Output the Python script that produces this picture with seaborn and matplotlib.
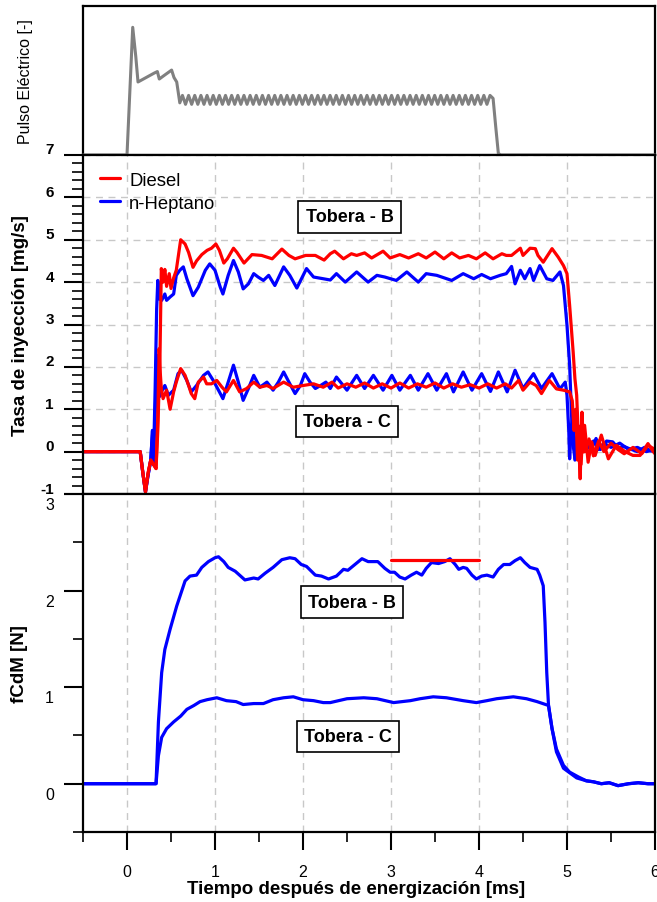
import numpy as np
import pandas as pd
import matplotlib
matplotlib.use("Agg")
import matplotlib.pyplot as plt
import matplotlib.transforms as mtransforms
from matplotlib.ticker import MultipleLocator, FixedLocator
import seaborn as sns

# ---------------- data ----------------
# electrical pulse (arbitrary units)
pulse_head_t = [-0.5, 0.0, 0.065, 0.10, 0.125, 0.31, 0.345, 0.367, 0.413, 0.507, 0.534, 0.565, 0.60]
pulse_head_v = [0.0, 0.0, 0.857, 0.66, 0.49, 0.55, 0.56, 0.51, 0.53, 0.57, 0.52, 0.49, 0.35]
pulse_hold_v = [
    0.40, 0.34, 0.40, 0.34, 0.40, 0.34, 0.40, 0.34, 0.40, 0.34, 0.40, 0.34, 0.40, 0.34, 0.40, 0.34, 0.40,
    0.34, 0.40, 0.34, 0.40, 0.34, 0.40, 0.34, 0.40, 0.34, 0.40, 0.34, 0.40, 0.34, 0.40, 0.34, 0.40, 0.34,
    0.40, 0.34, 0.40, 0.34, 0.40, 0.34, 0.40, 0.34, 0.40, 0.34, 0.40, 0.34, 0.40, 0.34, 0.40, 0.34, 0.40,
    0.34, 0.40, 0.34, 0.40, 0.34, 0.40, 0.34, 0.40, 0.34, 0.40, 0.34, 0.40, 0.34, 0.40, 0.34, 0.40, 0.34,
    0.40, 0.34, 0.40, 0.34, 0.40, 0.34, 0.40, 0.34, 0.40, 0.34, 0.40, 0.34, 0.40, 0.34, 0.40, 0.34, 0.40,
    0.34, 0.40, 0.34, 0.40, 0.34, 0.40, 0.34, 0.40, 0.34, 0.40, 0.34, 0.40, 0.34, 0.40, 0.34, 0.40, 0.38,
]
pulse_hold_t0, pulse_hold_t1 = 0.63, 4.16
pulse_tail_t = [4.19, 4.22, 4.25, 6.0]
pulse_tail_v = [0.19, 0.01, 0.0, 0.0]

# injection rate [mg/s] - Tobera B
heptano_b_t = [-0.5, 0.15, 0.18, 0.21, 0.24, 0.27, 0.29, 0.30, 0.32, 0.337, 0.35, 0.37, 0.394, 0.43, 0.45,
               0.49, 0.53, 0.56, 0.60, 0.64, 0.68, 0.75, 0.81, 0.89, 0.94, 1.0, 1.06, 1.09, 1.15, 1.21,
               1.265, 1.32, 1.38, 1.44, 1.49, 1.55, 1.61, 1.68, 1.78, 1.85, 1.93, 2.04, 2.12, 2.23, 2.31,
               2.38, 2.48, 2.61, 2.74, 2.84, 2.93, 3.06, 3.18, 3.31, 3.40, 3.52, 3.69, 3.82, 3.94, 4.03,
               4.13, 4.24, 4.31, 4.37, 4.41, 4.47, 4.52, 4.58, 4.62, 4.69, 4.77, 4.84, 4.92, 4.96, 5.0,
               5.03, 5.05, 5.07, 5.09, 5.12, 5.15, 5.18, 5.22, 5.27, 5.33, 5.38, 5.45, 5.52, 5.58, 5.65,
               5.72, 5.80, 5.88, 5.95, 6.0]
heptano_b_v = [0.0, 0.0, -0.5, -0.95, -0.55, -0.2, 0.5, -0.3, 1.5, 3.37, 4.04, 3.6, 3.57, 3.72, 3.57,
               3.65, 3.72, 4.16, 4.28, 4.36, 4.08, 3.68, 3.88, 4.28, 4.43, 4.28, 3.88, 3.72, 4.16, 4.51,
               4.24, 3.84, 3.96, 4.2, 4.12, 4.04, 4.16, 3.92, 4.36, 4.16, 3.86, 4.32, 4.12, 4.08, 4.05,
               4.2, 4.0, 4.24, 4.0, 4.16, 4.12, 4.04, 4.24, 4.0, 4.2, 4.16, 4.04, 4.2, 4.08, 4.18,
               4.08, 4.16, 4.2, 4.37, 3.96, 4.28, 4.08, 4.32, 4.04, 4.39, 4.08, 4.04, 4.24, 3.92, 2.98,
               2.04, 0.93, 0.15, -0.17, 0.3, -0.1, 0.2, 0.15, 0.05, 0.31, 0.05, 0.25, 0.23, 0.08, 0.12,
               0.06, 0.0, 0.1, 0.02, 0.0]

diesel_b_t = [-0.5, 0.15, 0.18, 0.21, 0.24, 0.27, 0.30, 0.33, 0.35, 0.375, 0.39, 0.41, 0.43, 0.45, 0.48,
              0.50, 0.53, 0.56, 0.61, 0.66, 0.70, 0.75, 0.79, 0.85, 0.91, 0.96, 1.01, 1.05, 1.10, 1.14,
              1.21, 1.25, 1.33, 1.42, 1.53, 1.65, 1.76, 1.84, 1.91, 2.03, 2.14, 2.24, 2.31, 2.36, 2.46,
              2.55, 2.61, 2.70, 2.78, 2.91, 2.99, 3.10, 3.20, 3.31, 3.40, 3.50, 3.60, 3.69, 3.78, 3.88,
              3.97, 4.07, 4.16, 4.26, 4.31, 4.37, 4.47, 4.50, 4.58, 4.64, 4.67, 4.73, 4.83, 4.90, 4.96,
              5.0, 5.03, 5.07, 5.09, 5.11, 5.13, 5.15, 5.17, 5.19, 5.20, 5.24, 5.28, 5.32, 5.39, 5.47,
              5.56, 5.66, 5.75, 5.83, 5.92, 5.98, 6.0]
diesel_b_v = [0.0, 0.0, -0.5, -0.95, -0.5, -0.2, -0.3, -0.4, 0.5, 2.27, 4.32, 4.0, 4.3, 3.9, 4.2,
              3.85, 4.1, 4.28, 5.0, 4.9, 4.7, 4.35, 4.5, 4.65, 4.75, 4.8, 4.9, 4.75, 4.45, 4.55,
              4.8, 4.7, 4.45, 4.65, 4.63, 4.55, 4.78, 4.63, 4.55, 4.63, 4.63, 4.52, 4.67, 4.73, 4.55,
              4.67, 4.63, 4.69, 4.57, 4.73, 4.57, 4.65, 4.57, 4.67, 4.57, 4.71, 4.55, 4.69, 4.57, 4.63,
              4.55, 4.69, 4.55, 4.67, 4.63, 4.63, 4.80, 4.63, 4.80, 4.79, 4.63, 4.47, 4.79, 4.59, 4.39,
              4.2, 3.45, 2.35, 1.72, 1.33, 0.30, -0.64, 0.93, -0.01, 0.62, -0.25, 0.23, -0.09, 0.39, -0.17,
              0.15, 0.0, -0.09, -0.09, 0.19, 0.0, -0.05]

# injection rate [mg/s] - Tobera C
heptano_c_t = [-0.5, 0.15, 0.18, 0.21, 0.24, 0.27, 0.29, 0.30, 0.33, 0.345, 0.356, 0.37, 0.39, 0.43, 0.47,
               0.53, 0.58, 0.62, 0.68, 0.73, 0.79, 0.87, 0.92, 0.98, 1.06, 1.09, 1.15, 1.21, 1.265, 1.32,
               1.38, 1.44, 1.51, 1.59, 1.66, 1.72, 1.78, 1.83, 1.91, 1.97, 2.02, 2.08, 2.14, 2.20, 2.26,
               2.31, 2.38, 2.50, 2.61, 2.70, 2.80, 2.91, 3.01, 3.10, 3.22, 3.31, 3.42, 3.52, 3.63, 3.71,
               3.82, 3.92, 4.03, 4.13, 4.22, 4.32, 4.41, 4.50, 4.62, 4.71, 4.83, 4.92, 4.98, 5.0, 5.02,
               5.03, 5.05, 5.07, 5.09, 5.12, 5.15, 5.20, 5.25, 5.30, 5.36, 5.42, 5.50, 5.60, 5.70, 5.80,
               5.90, 6.0]
heptano_c_v = [0.0, 0.0, -0.5, -0.95, -0.55, -0.2, 0.5, -0.3, 1.5, 2.27, 1.72, 1.3, 1.41, 1.56, 1.33,
               1.45, 1.84, 1.92, 1.68, 1.41, 1.56, 1.8, 1.88, 1.68, 1.37, 1.25, 1.64, 2.04, 1.64, 1.21,
               1.49, 1.8, 1.52, 1.64, 1.45, 1.64, 1.88, 1.68, 1.37, 1.56, 1.84, 1.64, 1.49, 1.56, 1.64,
               1.49, 1.76, 1.45, 1.8, 1.49, 1.8, 1.45, 1.8, 1.45, 1.8, 1.45, 1.84, 1.45, 1.84, 1.41,
               1.88, 1.45, 1.84, 1.42, 1.88, 1.41, 1.92, 1.49, 1.84, 1.49, 1.84, 1.48, 1.64, 1.33, 0.5,
               -0.17, 0.6, 0.93, -0.2, 0.4, 0.0, 0.3, 0.1, 0.25, 0.05, 0.2, 0.1, 0.2, 0.05, 0.1,
               0.0, 0.05]

diesel_c_t = [-0.5, 0.15, 0.18, 0.21, 0.24, 0.27, 0.30, 0.33, 0.35, 0.365, 0.38, 0.39, 0.41, 0.45, 0.49,
              0.53, 0.56, 0.61, 0.66, 0.70, 0.73, 0.77, 0.81, 0.87, 0.905, 0.96, 1.02, 1.08, 1.13, 1.21,
              1.28, 1.36, 1.44, 1.51, 1.59, 1.66, 1.78, 1.89, 2.0, 2.12, 2.23, 2.33, 2.40, 2.50, 2.60,
              2.70, 2.80, 2.90, 3.0, 3.10, 3.20, 3.30, 3.40, 3.50, 3.60, 3.70, 3.80, 3.90, 4.0, 4.10,
              4.20, 4.30, 4.37, 4.45, 4.50, 4.58, 4.65, 4.71, 4.80, 4.88, 4.96, 5.03, 5.06, 5.08, 5.10,
              5.12, 5.14, 5.16, 5.18, 5.21, 5.25, 5.30, 5.36, 5.42, 5.50, 5.58, 5.65, 5.75, 5.85, 5.92,
              6.0]
diesel_c_v = [0.0, 0.0, -0.5, -0.95, -0.5, -0.2, -0.3, -0.4, 0.8, 2.43, 1.8, 1.49, 1.25, 1.45, 1.0,
              1.41, 1.64, 1.96, 1.8, 1.56, 1.37, 1.25, 1.64, 1.76, 1.6, 1.6, 1.68, 1.52, 1.41, 1.68,
              1.41, 1.49, 1.64, 1.52, 1.56, 1.49, 1.64, 1.52, 1.56, 1.6, 1.52, 1.64, 1.5, 1.6, 1.52,
              1.62, 1.5, 1.6, 1.5, 1.62, 1.5, 1.6, 1.52, 1.62, 1.5, 1.6, 1.52, 1.58, 1.5, 1.6,
              1.5, 1.6, 1.5, 1.68, 1.45, 1.64, 1.56, 1.37, 1.68, 1.48, 1.45, 1.41, 1.2, 0.5, 1.0,
              -0.2, 0.6, -0.3, 0.5, 0.0, 0.3, -0.1, 0.25, 0.0, 0.2, 0.05, -0.05, 0.1, -0.05, 0.15,
              0.05]

# momentum flux fCdM [N]
fcdm_b_t = [-0.5, 0.33, 0.357, 0.394, 0.43, 0.49, 0.565, 0.66, 0.716, 0.79, 0.85, 0.925, 1.0, 1.04, 1.10,
            1.15, 1.23, 1.34, 1.44, 1.49, 1.57, 1.66, 1.76, 1.85, 1.91, 1.98, 2.04, 2.14, 2.21, 2.29,
            2.38, 2.46, 2.51, 2.59, 2.67, 2.74, 2.85, 2.93, 2.99, 3.04, 3.10, 3.16, 3.23, 3.29, 3.35,
            3.40, 3.46, 3.54, 3.61, 3.67, 3.73, 3.77, 3.82, 3.86, 3.92, 3.97, 4.03, 4.09, 4.16, 4.22,
            4.28, 4.35, 4.41, 4.47, 4.52, 4.58, 4.66, 4.69, 4.73, 4.75, 4.77, 4.79, 4.83, 4.88, 4.96,
            5.03, 5.13, 5.22, 5.30, 5.39, 5.48, 5.58, 5.70, 5.81, 5.92, 6.0]
fcdm_b_v = [0.0, 0.0, 0.64, 1.15, 1.39, 1.60, 1.84, 2.10, 2.15, 2.16, 2.24, 2.30, 2.34, 2.35, 2.30,
            2.24, 2.20, 2.11, 2.13, 2.12, 2.18, 2.24, 2.32, 2.34, 2.33, 2.27, 2.25, 2.16, 2.15, 2.12,
            2.15, 2.22, 2.21, 2.27, 2.33, 2.30, 2.30, 2.23, 2.19, 2.19, 2.14, 2.12, 2.16, 2.19, 2.16,
            2.23, 2.29, 2.28, 2.30, 2.33, 2.27, 2.22, 2.24, 2.23, 2.16, 2.12, 2.15, 2.16, 2.14, 2.22,
            2.27, 2.27, 2.31, 2.34, 2.29, 2.24, 2.22, 2.16, 2.05, 1.67, 1.15, 0.81, 0.57, 0.36, 0.19,
            0.12, 0.07, 0.03, 0.02, 0.0, 0.01, -0.02, 0.0, 0.01, 0.0, 0.0]

fcdm_c_t = [-0.5, 0.33, 0.357, 0.394, 0.45, 0.53, 0.61, 0.68, 0.76, 0.83, 0.91, 1.02, 1.13, 1.24, 1.32,
            1.44, 1.55, 1.66, 1.78, 1.89, 2.0, 2.12, 2.23, 2.31, 2.50, 2.69, 2.84, 3.03, 3.22, 3.33,
            3.48, 3.63, 3.82, 3.97, 4.09, 4.20, 4.39, 4.54, 4.66, 4.79, 4.83, 4.88, 4.96, 5.11, 5.22,
            5.30, 5.39, 5.48, 5.58, 5.70, 5.81, 5.92, 6.0]
fcdm_c_v = [0.0, 0.0, 0.29, 0.48, 0.57, 0.64, 0.70, 0.77, 0.81, 0.85, 0.87, 0.89, 0.86, 0.85, 0.82,
            0.83, 0.83, 0.87, 0.89, 0.90, 0.87, 0.86, 0.84, 0.84, 0.88, 0.89, 0.88, 0.84, 0.86, 0.88,
            0.90, 0.89, 0.86, 0.84, 0.86, 0.88, 0.90, 0.88, 0.85, 0.81, 0.57, 0.33, 0.16, 0.06, 0.03,
            0.02, 0.0, 0.01, -0.02, 0.0, 0.01, 0.0, 0.0]

# mean fCdM reference segment
mean_t = [3.0, 4.0]
mean_v = [2.32, 2.32]

# annotation positions
box_labels = ["Tobera - B", "Tobera - C"]
rate_box_xy = [(2.53, 5.54), (2.50, 0.71)]
fcdm_box_xy = [(2.56, 1.88), (2.51, 0.49)]

# ---------------- style ----------------
sns.set_theme(style="ticks")
plt.rcParams["font.family"] = ["Liberation Sans", "DejaVu Sans"]
plt.rcParams.update({
    "axes.linewidth": 1.6,
    "axes.unicode_minus": False,
    "text.color": "black",
    "axes.labelcolor": "black",
    "axes.edgecolor": "black",
    "xtick.color": "black",
    "ytick.color": "black",
})

RED = "#ff0000"
BLUE = "#0000ff"
GRAY = "#808080"
LW = 2.3
GRID = dict(color="#c8c8c8", linestyle=(0, (5, 4)), linewidth=1.0)
LABEL_FS = 13.5

fig = plt.figure(figsize=(6.57, 9.03), dpi=100)
L, W = 83 / 657, (655 - 83) / 657
ax_p = fig.add_axes([L, 1 - 156 / 903, W, 149 / 903])
ax_r = fig.add_axes([L, 1 - 495 / 903, W, 339 / 903], sharex=ax_p)
ax_f = fig.add_axes([L, 1 - 833 / 903, W, 338 / 903], sharex=ax_p)

for ax in (ax_p, ax_r, ax_f):
    for s in ax.spines.values():
        s.set_visible(True)
        s.set_color("black")
        s.set_linewidth(1.6)
    ax.set_facecolor("white")

# ---- electrical pulse ----
hold_t = np.linspace(pulse_hold_t0, pulse_hold_t1, len(pulse_hold_v))
pulse = pd.DataFrame({
    "t": list(pulse_head_t) + list(hold_t) + list(pulse_tail_t),
    "v": list(pulse_head_v) + list(pulse_hold_v) + list(pulse_tail_v),
})
sns.lineplot(data=pulse, x="t", y="v", ax=ax_p, color=GRAY, lw=2.2, estimator=None, sort=False)
for ln in ax_p.lines:
    ln.set_clip_on(False)
    ln.set_zorder(3)
ax_p.set_ylim(0, 1)
ax_p.set_yticks([])
ax_p.tick_params(axis="x", which="both", length=0, labelbottom=False)
ax_p.set_xlabel("")
ax_p.set_ylabel("Pulso Eléctrico [-]", fontsize=11.5)
ax_p.yaxis.set_label_coords(-0.088, 0.5)

# ---- injection rate ----
def draw(ax, t, v, color):
    df = pd.DataFrame({"t": t, "v": v})
    sns.lineplot(data=df, x="t", y="v", ax=ax, color=color, lw=LW, estimator=None,
                 sort=False, legend=False)

draw(ax_r, heptano_b_t, heptano_b_v, BLUE)
draw(ax_r, heptano_c_t, heptano_c_v, BLUE)
draw(ax_r, diesel_b_t, diesel_b_v, RED)
draw(ax_r, diesel_c_t, diesel_c_v, RED)

ax_r.set_ylim(-1, 7)
ax_r.yaxis.set_major_locator(FixedLocator(range(-1, 8)))
ax_r.yaxis.set_minor_locator(MultipleLocator(0.2))
ax_r.set_axisbelow(True)
ax_r.grid(True, which="major", **GRID)
ax_r.tick_params(axis="y", which="major", direction="out", length=14, width=1.5, pad=7, labelsize=11)
ax_r.tick_params(axis="y", which="minor", direction="out", length=8, width=1.2)
ax_r.tick_params(axis="x", which="both", length=0, labelbottom=False)
ax_r.set_xlabel("")
ax_r.set_ylabel("Tasa de inyección [mg/s]", fontsize=LABEL_FS, fontweight="bold")
ax_r.yaxis.set_label_coords(-0.095, 0.5)

h_d, = ax_r.plot([], [], color=RED, lw=LW)
h_h, = ax_r.plot([], [], color=BLUE, lw=LW)
ax_r.legend([h_d, h_h], ["Diesel", "n-Heptano"], loc="upper left", frameon=False,
            fontsize=13.3, handlelength=1.1, handletextpad=0.5, labelspacing=0.32,
            borderaxespad=0.5, borderpad=0.4)

BOX = dict(boxstyle="square,pad=0.4", fc="white", ec="black", lw=1.2)
for text, (x, y) in zip(box_labels, rate_box_xy):
    ax_r.text(x, y, text, ha="center", va="center", fontsize=13, fontweight="bold", bbox=BOX)

# ---- fCdM ----
draw(ax_f, fcdm_b_t, fcdm_b_v, BLUE)
draw(ax_f, fcdm_c_t, fcdm_c_v, BLUE)
draw(ax_f, mean_t, mean_v, RED)

ax_f.set_ylim(-0.5, 3)
ax_f.yaxis.set_major_locator(FixedLocator([0, 1, 2, 3]))
ax_f.yaxis.set_minor_locator(MultipleLocator(0.5))
ax_f.set_axisbelow(True)
ax_f.xaxis.grid(True, which="major", **GRID)
ax_f.yaxis.grid(False)
ax_f.tick_params(axis="y", which="major", direction="out", length=14, width=1.5, pad=7, labelsize=11.5)
ax_f.tick_params(axis="y", which="minor", direction="out", length=7, width=1.2)
ax_f.set_ylabel("fCdM [N]", fontsize=LABEL_FS, fontweight="bold")
ax_f.yaxis.set_label_coords(-0.097, 0.5)

for text, (x, y) in zip(box_labels, fcdm_box_xy):
    ax_f.text(x, y, text, ha="center", va="center", fontsize=13, fontweight="bold", bbox=BOX)

ax_f.set_xlim(-0.5, 6)
ax_f.xaxis.set_major_locator(FixedLocator(range(0, 7)))
ax_f.xaxis.set_minor_locator(MultipleLocator(0.5))
ax_f.tick_params(axis="x", which="major", direction="out", length=13, width=1.5, pad=10,
                 labelsize=11.5, labelbottom=True)
ax_f.tick_params(axis="x", which="minor", direction="out", length=7, width=1.2)
ax_f.set_xlabel("Tiempo después de energización [ms]", fontsize=LABEL_FS, fontweight="bold")
ax_f.xaxis.set_label_coords(0.478, -0.143)

# tick labels: bold on the rate panel, nudged off the tick line on both panels
fig.canvas.draw()
up = mtransforms.ScaledTranslation(0, 0.07, fig.dpi_scale_trans)
down = mtransforms.ScaledTranslation(0, -0.09, fig.dpi_scale_trans)
for lab in ax_r.get_yticklabels():
    lab.set_fontweight("bold")
    lab.set_transform(lab.get_transform() + up)
for lab in ax_f.get_yticklabels():
    lab.set_transform(lab.get_transform() + down)

fig.savefig("out.png", dpi=100, facecolor="white")
